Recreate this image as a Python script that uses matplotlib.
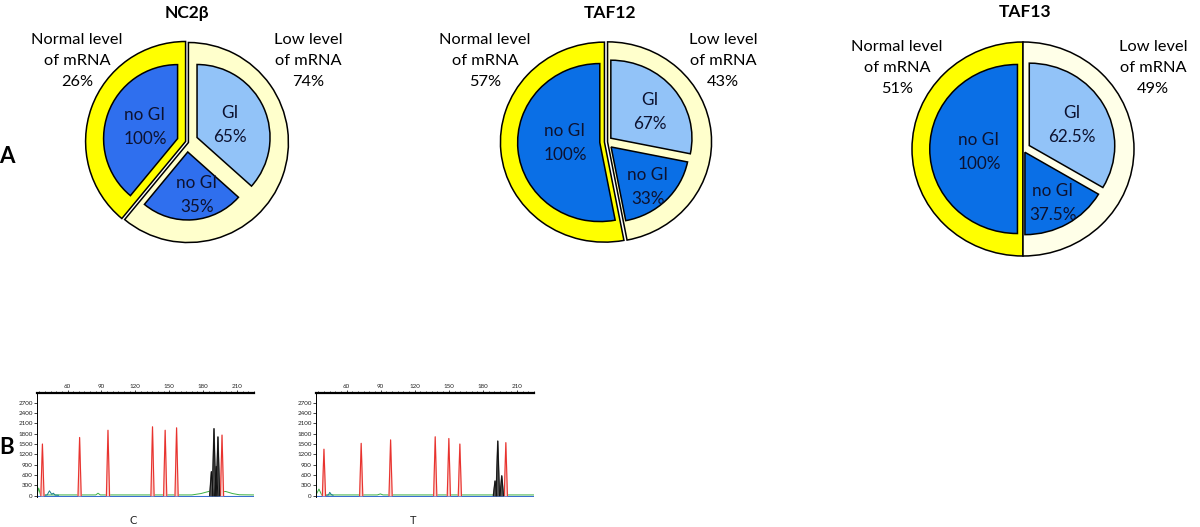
import matplotlib
matplotlib.use('Agg')
import matplotlib.pyplot as plt
from matplotlib.ticker import MultipleLocator

plt.rcParams['font.family'] = ['Lato', 'DejaVu Sans']

W, H = 1200, 527
fig = plt.figure(figsize=(W / 100, H / 100), dpi=100)


def fx(x):
    return x / W


def fy(y):
    return 1 - y / H


# ---------------- data: panel A ----------------
genes = ['NC2β', 'TAF12', 'TAF13']
normal_pct = ['26%', '57%', '51%']
low_pct = ['74%', '43%', '49%']
gi_pct = ['65%', '67%', '62.5%']
nogi_pct = ['35%', '33%', '37.5%']
# slice sizes as they are drawn in the figure
normal_drawn = [0.39, 0.53, 0.50]   # share of whole circle
gi_drawn = [0.60, 0.60, 0.67]       # share of the "low level" part

# ---------------- data: panel B ----------------
size_ticks = [60, 90, 120, 150, 180, 210]
rfu_ticks = [0, 300, 600, 900, 1200, 1500, 1800, 2100, 2400, 2700]
trace_names = ['C', 'T']
red_pos = [[37.8, 70.7, 95.8, 135.2, 146.4, 156.5, 196.7],
           [40.0, 72.8, 98.7, 138.0, 150.0, 159.7, 200.2]]
red_h = [[1500, 1690, 1900, 2000, 1900, 1970, 1760],
         [1350, 1520, 1620, 1710, 1660, 1500, 1540]]
black_pos = [[187.3, 189.6, 191.6, 193.1],
             [190.7, 193.1, 196.6]]
black_h = [[700, 1950, 850, 1710],
           [430, 1590, 580]]
green_x = [[33, 34.5, 36, 38, 60, 85, 87, 89, 120, 170, 178, 186, 190, 195, 200, 206, 212, 225],
           [33, 35.6, 38, 60, 87, 89.7, 92, 120, 190, 225]]
green_y = [[20, 220, 30, 20, 20, 20, 70, 20, 20, 20, 60, 130, 100, 110, 120, 60, 25, 20],
           [20, 190, 20, 20, 20, 50, 20, 20, 20, 20]]
teal_x = [[40, 42, 44, 46, 47.5, 49, 52],
          [42, 44, 45.1, 46.5, 48]]
teal_y = [[10, 20, 140, 40, 70, 15, 10],
          [10, 20, 95, 30, 10]]

# ---------------- layout / style ----------------
pie_centers = [(187, 142), (606, 142), (1023, 149)]
pie_rx = [100, 104, 111]
pie_ry = [100, 100, 107]
outer_explode = [0.015, 0.015, 0.0]
inner_radius = [[0.74, 0.68, 0.73], [0.79, 0.75, 0.78], [0.79, 0.77, 0.77]]
inner_explode = [[0.10, 0.10, 0.11], [0.06, 0.07, 0.06], [0.05, 0.035, 0.065]]
yellow = '#FFFF00'
light_yellow = ['#FFFFCC', '#FFFFCC', '#FFFFE8']
dark_blue = ['#2F6FEE', '#0A6FE6', '#0A6FE6']
light_blue = '#92C3F8'
text_dark = '#0d1230'

label_left_xy = [(77, 61), (485, 61), (897, 68)]
label_right_xy = [(308, 61), (723, 61), (1153, 68)]
nogi100_xy = [(145, 127), (565, 143), (979, 152)]
gi_xy = [(230, 125), (650, 112), (1072, 125)]
nogi_xy = [(197, 195), (648, 187), (1053, 203)]
title_xy = [(187, 13), (610, 13), (1025, 12)]

wprops = dict(edgecolor='black', linewidth=1.1)

for i in range(3):
    cx, cy = pie_centers[i]
    rx, ry = pie_rx[i], pie_ry[i]
    S = 1.25
    ax = fig.add_axes([fx(cx - S * rx), fy(cy + S * ry), 2 * S * rx / W, 2 * S * ry / H])
    n = normal_drawn[i]
    l = 1 - n
    g = gi_drawn[i]
    ax.pie([n, l], colors=[yellow, light_yellow[i]], startangle=90, counterclock=True,
           radius=1.0, explode=[outer_explode[i]] * 2, wedgeprops=wprops)
    wedges, _ = ax.pie([n, l * (1 - g), l * g], colors=[dark_blue[i], dark_blue[i], light_blue],
                       startangle=90, counterclock=True, radius=1.0,
                       explode=inner_explode[i], wedgeprops=wprops)
    for w, r in zip(wedges, inner_radius[i]):
        w.set_radius(r)
    ax.set_xlim(-S, S)
    ax.set_ylim(-S, S)
    ax.set_aspect('auto')
    ax.axis('off')

    fs = 11.8
    fs_in = 12.3
    x, y = label_left_xy[i]
    fig.text(fx(x), fy(y), 'Normal level\nof mRNA\n' + normal_pct[i], ha='center', va='center',
             fontsize=fs, linespacing=1.68, color='black')
    x, y = label_right_xy[i]
    fig.text(fx(x), fy(y), 'Low level\nof mRNA\n' + low_pct[i], ha='center', va='center',
             fontsize=fs, linespacing=1.68, color='black')
    x, y = nogi100_xy[i]
    fig.text(fx(x), fy(y), 'no GI\n100%', ha='center', va='center', fontsize=fs_in,
             linespacing=1.55, color=text_dark)
    x, y = gi_xy[i]
    fig.text(fx(x), fy(y), 'GI\n' + gi_pct[i], ha='center', va='center', fontsize=fs_in,
             linespacing=1.55, color=text_dark)
    x, y = nogi_xy[i]
    fig.text(fx(x), fy(y), 'no GI\n' + nogi_pct[i], ha='center', va='center', fontsize=fs_in,
             linespacing=1.55, color=text_dark)
    x, y = title_xy[i]
    fig.text(fx(x), fy(y), genes[i], ha='center', va='center', fontsize=12.5,
             fontweight='bold')

fig.text(fx(7), fy(157), 'A', ha='center', va='center', fontsize=16, fontweight='bold')
fig.text(fx(7), fy(448), 'B', ha='center', va='center', fontsize=16, fontweight='bold')

# ---------------- panel B ----------------
b_boxes = [(37, 393, 254, 497), (316, 393, 534, 497)]
b_label_xy = [(133, 520), (413, 520)]
for k in range(2):
    x0, y0, x1, y1 = b_boxes[k]
    ax = fig.add_axes([fx(x0), fy(y1), (x1 - x0) / W, (y1 - y0) / H])
    ax.set_xlim(33, 225)
    ax.set_ylim(-40, 2980)
    ax.axhline(0, color='#3a6fd0', lw=0.8, zorder=1)
    ax.plot(green_x[k], green_y[k], color='#3cb043', lw=0.7, zorder=2)
    ax.plot(teal_x[k], teal_y[k], color='#1a7f8a', lw=0.7, zorder=2)
    for p, h in zip(red_pos[k], red_h[k]):
        ax.fill([p - 1.4, p, p + 1.4], [0, h, 0], color='#fbd0cc', zorder=3)
        ax.plot([p - 1.4, p, p + 1.4], [0, h, 0], color='#e8322e', lw=0.8, zorder=4)
    for p, h in zip(black_pos[k], black_h[k]):
        ax.fill([p - 1.5, p, p + 1.5], [0, h, 0], color='#555555', zorder=5)
        ax.plot([p - 1.5, p, p + 1.5], [0, h, 0], color='#111111', lw=0.7, zorder=6)
    ax.xaxis.tick_top()
    ax.set_xticks(size_ticks)
    ax.xaxis.set_minor_locator(MultipleLocator(5))
    ax.set_yticks(rfu_ticks)
    ax.tick_params(axis='both', which='major', labelsize=4.5, length=2, width=0.6,
                   pad=1, colors='#222222')
    ax.tick_params(axis='x', which='minor', length=1.2, width=0.5, top=True)
    for s in ['right', 'bottom']:
        ax.spines[s].set_visible(False)
    ax.spines['top'].set_linewidth(1.6)
    ax.spines['left'].set_linewidth(0.7)
    x, y = b_label_xy[k]
    fig.text(fx(x), fy(y), trace_names[k], ha='center', va='center', fontsize=8,
             color='#222222')

fig.savefig('out.png', dpi=100)
